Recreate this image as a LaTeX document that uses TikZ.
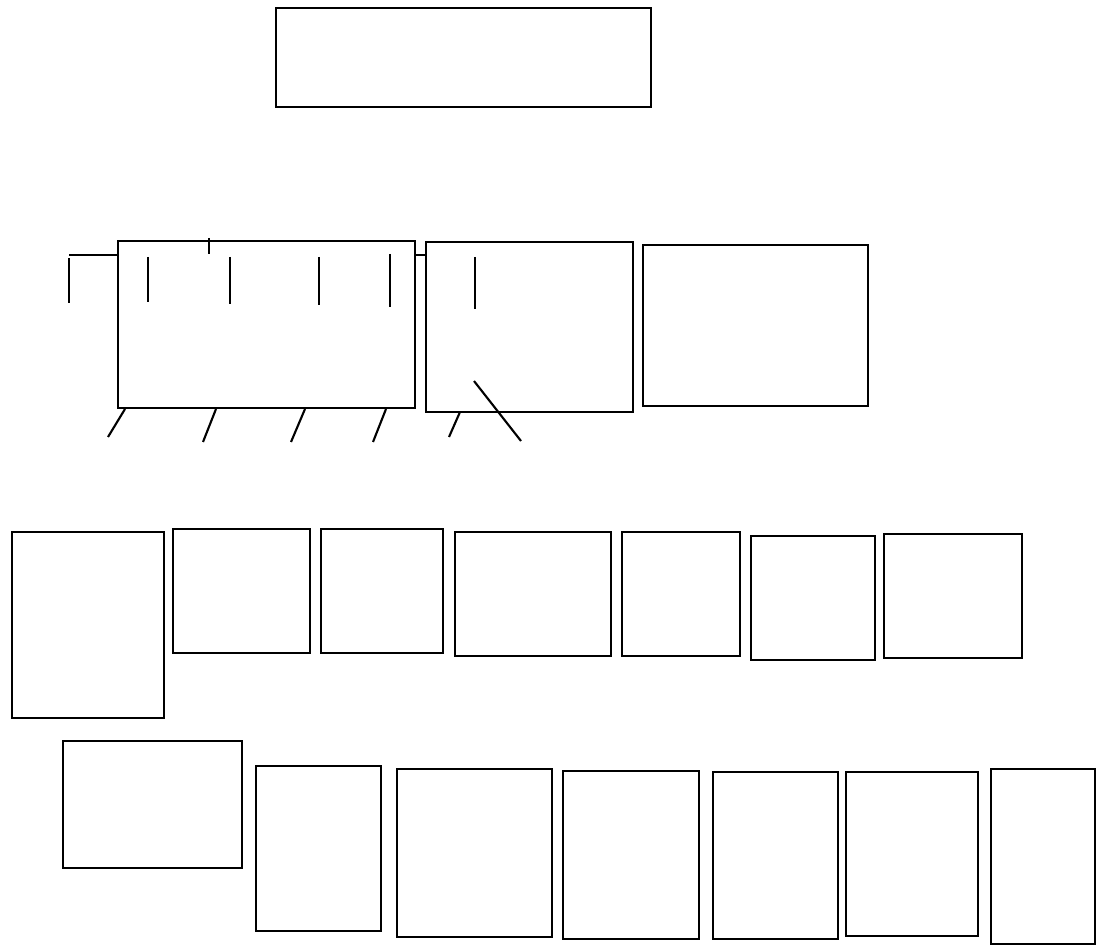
\documentclass[tikz,border=0pt]{standalone}
\usetikzlibrary{fit}
\tikzset{
  blok/.style={draw, line width=1.3pt, inner sep=0pt, outer sep=0pt},
  tick/.style={line width=1.2pt}
}
\begin{document}
\begin{tikzpicture}[x=0.02cm, y=-0.02cm]
        \useasboundingbox (0,0) rectangle (1098,945);
        % Top block
        \node[blok, fit={(276,8) (651,107)}] (head) {};

        % Second row
        \node[blok, fit={(118,241) (415,408)}] (a1) {};
        \node[blok, fit={(426,242) (633,412)}] (a2) {};
        \node[blok, fit={(643,245) (868,406)}] (a3) {};

        % Marks on the left block
        \coordinate (lft) at (69,255);
        \draw[tick] (a1.west |- lft) -- (lft);
        \draw[tick] (69,258) -- (69,303);
        \draw[tick] (209,238) -- (209,254);
        \foreach \x/\y in {148/302, 230/304, 319/305}
            \draw[tick] (\x,257) -- (\x,\y);
        \draw[tick] (390,254) -- (390,307);

        % Link between the blocks
        \draw[tick] (a1.east |- lft) -- (a2.west |- lft);
        \draw[tick] (475,257) -- (475,309);
        \draw[tick] (474,381) -- (521,441);

        % Slanted legs
        \foreach \a/\b/\c in {125/108/437, 216/203/442, 305/291/442, 386/373/442}
            \draw[tick] (\a,409) -- (\b,\c);
        \draw[tick] (460,412) -- (449,437);

        % Third row
        \foreach \n/\l/\t/\r/\b in {b1/12/532/164/718, b2/173/529/310/653,
                b3/321/529/443/653, b4/455/532/611/656, b5/622/532/740/656,
                b6/751/536/875/660, b7/884/534/1022/658}
            \node[blok, fit={(\l,\t) (\r,\b)}] (\n) {};

        % Bottom row
        \foreach \n/\l/\t/\r/\b in {c1/63/741/242/868, c2/256/766/381/931,
                c3/397/769/552/937, c4/563/771/699/939, c5/713/772/838/939,
                c6/846/772/978/936, c7/991/769/1095/944}
            \node[blok, fit={(\l,\t) (\r,\b)}] (\n) {};
\end{tikzpicture}
\end{document}
